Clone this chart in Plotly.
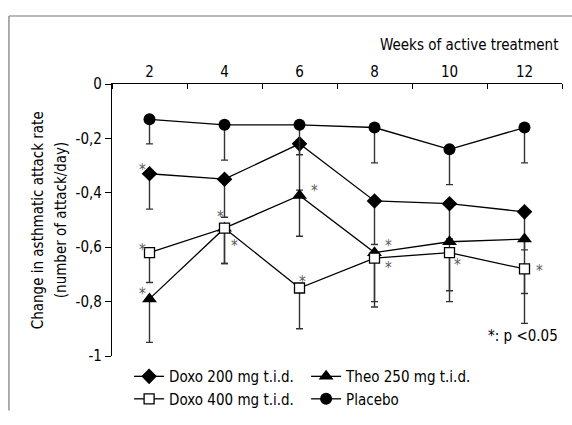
import plotly.graph_objects as go

weeks = [2, 4, 6, 8, 10, 12]
doxo200 = [-0.33, -0.35, -0.22, -0.43, -0.44, -0.47]
doxo200_low = [-0.46, -0.49, -0.39, -0.59, -0.57, -0.61]
theo250 = [-0.79, -0.53, -0.41, -0.62, -0.58, -0.57]
theo250_low = [-0.95, -0.66, -0.56, -0.80, -0.76, -0.77]
doxo400 = [-0.62, -0.53, -0.75, -0.64, -0.62, -0.68]
doxo400_low = [-0.73, -0.66, -0.90, -0.82, -0.80, -0.88]
placebo = [-0.13, -0.15, -0.15, -0.16, -0.24, -0.16]
placebo_low = [-0.22, -0.28, -0.26, -0.29, -0.37, -0.29]

star_x = [1.80, 1.80, 1.80, 3.89, 4.26, 6.39, 6.07, 8.36, 8.36, 10.2, 12.4]
star_y = [-0.30, -0.597, -0.756, -0.475, -0.58, -0.377, -0.712, -0.58, -0.66, -0.652, -0.673]

y_ticks = [0, -0.2, -0.4, -0.6, -0.8, -1]
y_tick_text = ["0", "-0,2", "-0,4", "-0,6", "-0,8", "-1"]
x_label_ticks = [2, 4, 6, 8, 10, 12]
x_minor_ticks = [1, 3, 5, 7, 9, 11, 13]

y_title_lines = ["Change in asthmatic attack rate", "(number of attack/day)"]

FONT = "DejaVu Sans Condensed, Liberation Sans Narrow, sans-serif"


def err(mean, low):
    return [round(m - l, 3) for m, l in zip(mean, low)]


series = [
    ("Doxo 200 mg t.i.d.", doxo200, doxo200_low, dict(symbol="diamond", size=12, color="black")),
    ("Theo 250 mg t.i.d.", theo250, theo250_low, dict(symbol="triangle-up", size=13, color="black")),
    ("Doxo 400 mg t.i.d.", doxo400, doxo400_low,
     dict(symbol="square", size=10, color="white", line=dict(color="black", width=1.3))),
    ("Placebo", placebo, placebo_low, dict(symbol="circle", size=12, color="black")),
]

fig = go.Figure()
for name, vals, low, marker in series:
    fig.add_trace(go.Scatter(
        x=weeks, y=vals, name=name, mode="lines+markers",
        line=dict(color="black", width=1.3),
        marker=marker,
        error_y=dict(type="data", symmetric=False, array=[0] * len(vals),
                     arrayminus=err(vals, low), color="#333333",
                     thickness=1.4, width=3.5),
    ))

for sx, sy in zip(star_x, star_y):
    fig.add_annotation(x=sx, y=sy, text="*", showarrow=False,
                       font=dict(family=FONT, size=15, color="#5a5a5a"),
                       yshift=-4)

fig.add_annotation(xref="paper", yref="paper", x=0.996, y=1.142, text="Weeks of active treatment",
                   showarrow=False, xanchor="right", yanchor="middle",
                   font=dict(family=FONT, size=15, color="black"))
fig.add_annotation(xref="paper", yref="paper", x=0.996, y=0.073, text="*: p &lt;0.05",
                   showarrow=False, xanchor="right", yanchor="middle",
                   font=dict(family=FONT, size=15, color="black"))
for xpos, line in zip([-0.164, -0.113], y_title_lines):
    fig.add_annotation(xref="paper", yref="paper", x=xpos, y=0.5, text=line,
                       showarrow=False, textangle=-90, xanchor="center", yanchor="middle",
                       font=dict(family=FONT, size=15, color="black"))

# outer frame (top and left edges)
fig.add_shape(type="line", xref="paper", yref="paper", x0=-0.229, x1=1.03, y0=1.25, y1=1.25,
              line=dict(color="#777777", width=1.2))
fig.add_shape(type="line", xref="paper", yref="paper", x0=-0.229, x1=-0.229, y0=-0.2, y1=1.25,
              line=dict(color="#777777", width=1.2))

fig.update_layout(
    width=572, height=425,
    margin=dict(l=112, r=10, t=84, b=53),
    paper_bgcolor="white", plot_bgcolor="white",
    font=dict(family=FONT, size=15, color="black"),
    showlegend=True,
    legend=dict(orientation="h", x=0.038, y=-0.015, xanchor="left", yanchor="top",
                entrywidth=132, entrywidthmode="pixels", tracegroupgap=0,
                font=dict(family=FONT, size=15, color="black"),
                bgcolor="rgba(0,0,0,0)", itemwidth=30),
    xaxis=dict(side="top", range=[1, 13], tickvals=x_label_ticks, ticks="", showgrid=False,
               zeroline=False, showline=True, linecolor="black", linewidth=1.3,
               tickfont=dict(family=FONT, size=15, color="black"),
               minor=dict(tickvals=x_minor_ticks, ticks="inside", ticklen=5,
                          tickcolor="black", tickwidth=1.2, showgrid=False)),
    yaxis=dict(range=[-1, 0], tickvals=y_ticks, ticktext=y_tick_text, ticks="outside",
               ticklen=6, tickcolor="black", tickwidth=1.2, showgrid=False, zeroline=False,
               showline=True, linecolor="black", linewidth=1.3,
               tickfont=dict(family=FONT, size=15, color="black")),
)

fig.write_html("out.html", config={"displayModeBar": False},
               post_script="document.body.style.margin='0';document.body.style.overflow='hidden';")
